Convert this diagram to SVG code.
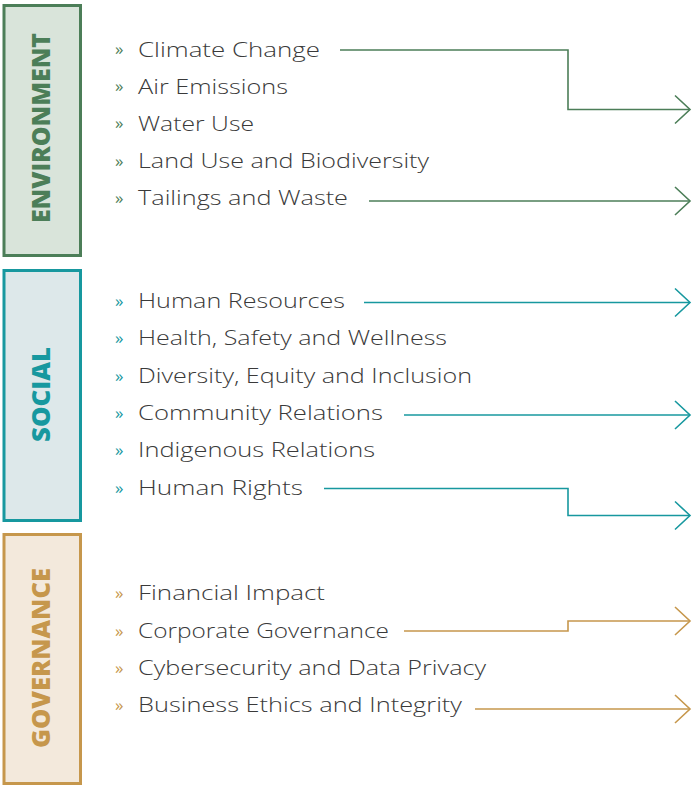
<svg xmlns="http://www.w3.org/2000/svg" width="694" height="785" viewBox="0 0 694 785">
<defs>
<style>
.item{font-family:"Open Sans","Liberation Sans",sans-serif;font-weight:300;font-size:21px;fill:#3a3a3a}
.bul{font-family:"Open Sans","Liberation Sans",sans-serif;font-weight:400;font-size:17px}
.head{font-family:"Open Sans","Liberation Sans",sans-serif;font-weight:800;font-size:25px}
.env{fill:#4c7e58}.soc{fill:#17989f}.gov{fill:#c6974c}
.cenv{fill:none;stroke:#4c7e58;stroke-width:1.6}
.csoc{fill:none;stroke:#17989f;stroke-width:1.6}
.cgov{fill:none;stroke:#c6974c;stroke-width:1.6}
</style>
<marker id="aenv" markerUnits="userSpaceOnUse" viewBox="-17 -16 19 32" refX="0" refY="0" markerWidth="19" markerHeight="32" orient="auto"><polyline points="-15,-14 0,0 -15,14" fill="none" stroke="#4c7e58" stroke-width="1.6"/></marker>
<marker id="asoc" markerUnits="userSpaceOnUse" viewBox="-17 -16 19 32" refX="0" refY="0" markerWidth="19" markerHeight="32" orient="auto"><polyline points="-15,-14 0,0 -15,14" fill="none" stroke="#17989f" stroke-width="1.6"/></marker>
<marker id="agov" markerUnits="userSpaceOnUse" viewBox="-17 -16 19 32" refX="0" refY="0" markerWidth="19" markerHeight="32" orient="auto"><polyline points="-15,-14 0,0 -15,14" fill="none" stroke="#c6974c" stroke-width="1.6"/></marker>
</defs>

<g id="environment">
<rect x="4" y="5.5" width="76.5" height="250" fill="#d9e4da" stroke="#4c7e58" stroke-width="3"/>
<text class="head env" transform="translate(50,128) rotate(-90)" text-anchor="middle" textLength="190" lengthAdjust="spacingAndGlyphs">ENVIRONMENT</text>
</g>
<g id="social">
<rect x="4" y="270.5" width="76.5" height="250" fill="#dde8ea" stroke="#17989f" stroke-width="3"/>
<text class="head soc" transform="translate(50,394.5) rotate(-90)" text-anchor="middle" textLength="95" lengthAdjust="spacingAndGlyphs">SOCIAL</text>
</g>
<g id="governance">
<rect x="4" y="534.5" width="76.5" height="249" fill="#f3e9dc" stroke="#c6974c" stroke-width="3"/>
<text class="head gov" transform="translate(50,658) rotate(-90)" text-anchor="middle" textLength="180" lengthAdjust="spacingAndGlyphs">GOVERNANCE</text>
</g>

<g id="env-items">
<text class="bul env" x="115" y="55">»</text><text class="item" x="138" y="56.5" textLength="182" lengthAdjust="spacingAndGlyphs">Climate Change</text>
<text class="bul env" x="115" y="92">»</text><text class="item" x="138" y="93.5" textLength="150" lengthAdjust="spacingAndGlyphs">Air Emissions</text>
<text class="bul env" x="115" y="129">»</text><text class="item" x="138" y="130.5" textLength="116" lengthAdjust="spacingAndGlyphs">Water Use</text>
<text class="bul env" x="115" y="166.5">»</text><text class="item" x="138" y="168" textLength="291" lengthAdjust="spacingAndGlyphs">Land Use and Biodiversity</text>
<text class="bul env" x="115" y="203.5">»</text><text class="item" x="138" y="205" textLength="210" lengthAdjust="spacingAndGlyphs">Tailings and Waste</text>
</g>
<g id="soc-items">
<text class="bul soc" x="115" y="306.5">»</text><text class="item" x="138" y="308" textLength="207" lengthAdjust="spacingAndGlyphs">Human Resources</text>
<text class="bul soc" x="115" y="343.5">»</text><text class="item" x="138" y="345" textLength="309" lengthAdjust="spacingAndGlyphs">Health, Safety and Wellness</text>
<text class="bul soc" x="115" y="381.5">»</text><text class="item" x="138" y="383" textLength="334" lengthAdjust="spacingAndGlyphs">Diversity, Equity and Inclusion</text>
<text class="bul soc" x="115" y="418.5">»</text><text class="item" x="138" y="420" textLength="245" lengthAdjust="spacingAndGlyphs">Community Relations</text>
<text class="bul soc" x="115" y="455.5">»</text><text class="item" x="138" y="457" textLength="237" lengthAdjust="spacingAndGlyphs">Indigenous Relations</text>
<text class="bul soc" x="115" y="493.5">»</text><text class="item" x="138" y="495" textLength="165" lengthAdjust="spacingAndGlyphs">Human Rights</text>
</g>
<g id="gov-items">
<text class="bul gov" x="115" y="598.5">»</text><text class="item" x="138" y="600" textLength="187" lengthAdjust="spacingAndGlyphs">Financial Impact</text>
<text class="bul gov" x="115" y="636.5">»</text><text class="item" x="138" y="638" textLength="251" lengthAdjust="spacingAndGlyphs">Corporate Governance</text>
<text class="bul gov" x="115" y="673.5">»</text><text class="item" x="138" y="675" textLength="348" lengthAdjust="spacingAndGlyphs">Cybersecurity and Data Privacy</text>
<text class="bul gov" x="115" y="710.5">»</text><text class="item" x="138" y="712" textLength="324" lengthAdjust="spacingAndGlyphs">Business Ethics and Integrity</text>
</g>

<g id="connectors">
<polyline class="cenv" points="340,50 568,50 568,109.5 690,109.5" marker-end="url(#aenv)"/>
<polyline class="cenv" points="369,201 690,201" marker-end="url(#aenv)"/>
<polyline class="csoc" points="364,302.5 690,302.5" marker-end="url(#asoc)"/>
<polyline class="csoc" points="404,415 690,415" marker-end="url(#asoc)"/>
<polyline class="csoc" points="324,488.5 568,488.5 568,515.5 690,515.5" marker-end="url(#asoc)"/>
<polyline class="cgov" points="404,631 568,631 568,621 690,621" marker-end="url(#agov)"/>
<polyline class="cgov" points="475,709 690,709" marker-end="url(#agov)"/>
</g>
</svg>
